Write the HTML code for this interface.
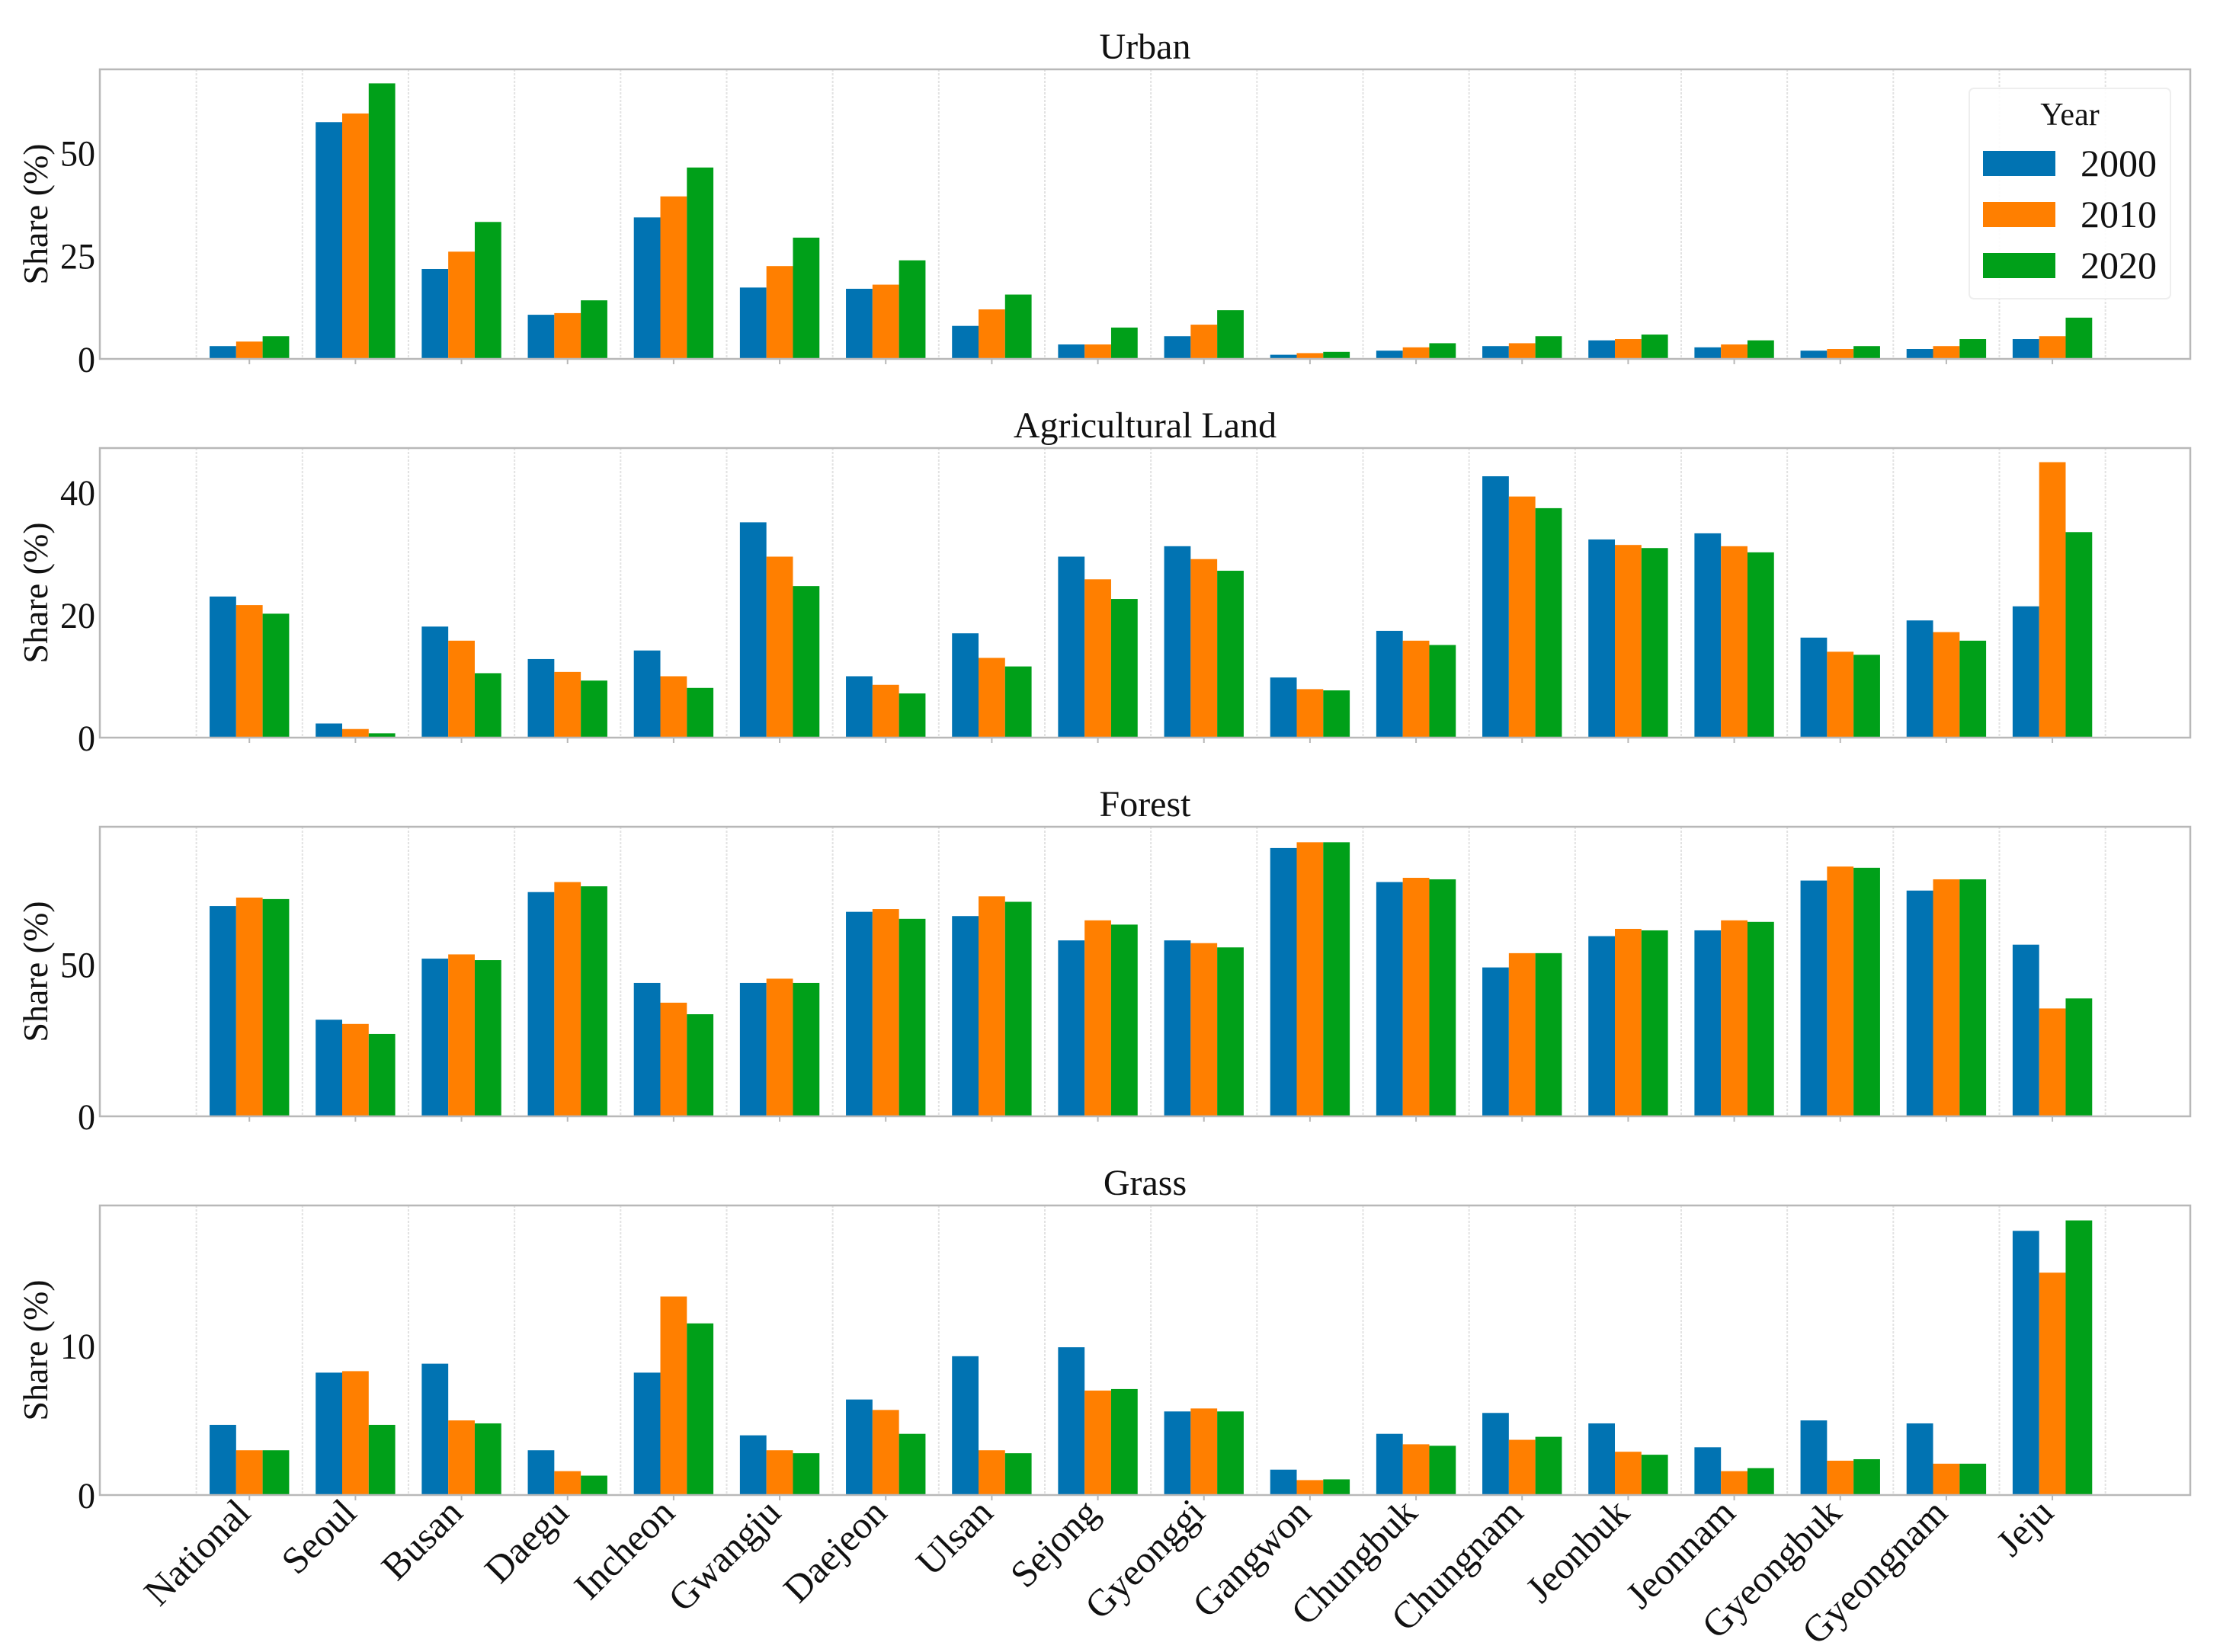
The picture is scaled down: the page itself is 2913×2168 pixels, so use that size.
<!DOCTYPE html>
<html><head><meta charset="utf-8"><style>
html,body{margin:0;padding:0;background:#fff;}
svg{display:block;font-family:"Liberation Serif",serif;}
</style></head><body>
<svg id="chart" width="2913" height="2168" viewBox="0 0 2913 2168" xmlns="http://www.w3.org/2000/svg"></svg>
<script>
const categories=["National","Seoul","Busan","Daegu","Incheon","Gwangju","Daejeon","Ulsan","Sejong","Gyeonggi","Gangwon","Chungbuk","Chungnam","Jeonbuk","Jeonnam","Gyeongbuk","Gyeongnam","Jeju"];
const years=["2000","2010","2020"];
const panelTitles=["Urban","Agricultural Land","Forest","Grass"];
const urban2000=[3.1,57.4,21.8,10.7,34.3,17.3,17,8,3.5,5.5,1,2,3.1,4.5,2.8,2,2.4,4.8];
const urban2010=[4.2,59.5,26,11.1,39.4,22.5,18,12,3.5,8.3,1.4,2.8,3.8,4.8,3.5,2.4,3.1,5.5];
const urban2020=[5.5,66.8,33.2,14.2,46.4,29.4,23.9,15.6,7.6,11.8,1.7,3.8,5.5,5.9,4.5,3.1,4.8,10];
const agri2000=[23,2.3,18.1,12.8,14.2,35.1,10,17,29.5,31.2,9.8,17.4,42.6,32.3,33.3,16.3,19.1,21.4];
const agri2010=[21.6,1.4,15.8,10.7,10,29.5,8.6,13,25.8,29.1,7.9,15.8,39.3,31.4,31.2,14,17.2,44.9];
const agri2020=[20.2,0.7,10.5,9.3,8.1,24.7,7.2,11.6,22.6,27.2,7.7,15.1,37.4,30.9,30.2,13.5,15.8,33.5];
const forest2000=[69.2,31.8,51.9,73.8,43.9,43.9,67.3,65.9,57.9,57.9,88.3,77.1,49,59.3,61.2,77.6,74.3,56.5];
const forest2010=[72,30.4,53.3,77.1,37.4,45.3,68.2,72.4,64.5,57,90.2,78.5,53.7,61.7,64.5,82.2,78,35.5];
const forest2020=[71.5,27.1,51.4,75.7,33.6,43.9,65,70.6,63.1,55.6,90.2,78,53.7,61.2,64,81.8,78,38.8];
const grass2000=[4.7,8.2,8.8,3,8.2,4,6.4,9.3,9.9,5.6,1.7,4.1,5.5,4.8,3.2,5,4.8,17.7];
const grass2010=[3,8.3,5,1.6,13.3,3,5.7,3,7,5.8,1,3.4,3.7,2.9,1.6,2.3,2.1,14.9];
const grass2020=[3,4.7,4.8,1.3,11.5,2.8,4.1,2.8,7.1,5.6,1.05,3.3,3.9,2.7,1.8,2.4,2.1,18.4];
const yMax=[70.2,47.2,95.3,19.4];
const yTicks=[[0,25,50],[0,20,40],[0,50],[0,10]];

const panelSeries=[[urban2000,urban2010,urban2020],[agri2000,agri2010,agri2020],[forest2000,forest2010,forest2020],[grass2000,grass2010,grass2020]];
const colors=["#0173b2","#ff7f00","#00a019"];
const NS="http://www.w3.org/2000/svg";
const svg=document.getElementById("chart");
const L=131,R=2874,H=380,tops=[91,588,1085,1582];
const xMin=-1.41,xMax=18.3;
function xs(v){return L+(v-xMin)/(xMax-xMin)*(R-L);}
function mk(tag,attrs,parent){const e=document.createElementNS(NS,tag);for(const k in attrs)e.setAttribute(k,attrs[k]);(parent||svg).appendChild(e);return e;}
const bw=0.25;
panelTitles.forEach((t,p)=>{
  const top=tops[p],bot=top+H;
  const ys=v=>bot-v/yMax[p]*H;
  const g=mk("g",{});
  
  
  for(let i=0;i<=categories.length;i++){
    const gl=mk("line",{x1:xs(i-0.5),x2:xs(i-0.5),y1:top,y2:bot,stroke:"#e2e2e2","stroke-width":2,"stroke-dasharray":"3,2"},g);
    
    
  }
  panelSeries[p].forEach((ser,s)=>{
    ser.forEach((v,i)=>{
      const x0=xs(i+(s-1)*bw-bw/2),x1=xs(i+(s-1)*bw+bw/2);
      const r=mk("rect",{x:x0,y:ys(v),width:x1-x0,height:bot-ys(v),fill:colors[s]},g);
      
      
    });
  });
  const fr=mk("rect",{x:L,y:top,width:R-L,height:H,fill:"none",stroke:"#b8b8b8","stroke-width":2.5},g);
  
  
  categories.forEach((c,i)=>{
    const tk=mk("line",{x1:xs(i),x2:xs(i),y1:bot,y2:bot+7,stroke:"#b8b8b8","stroke-width":2},g);
    
    
  });
  yTicks[p].forEach(v=>{
    const tl=mk("text",{x:L-6,y:ys(v)+17,"text-anchor":"end","font-size":48,fill:"#111",textLength:v>=10?46:23,lengthAdjust:"spacingAndGlyphs"},g);
    tl.textContent=v;
    
    
  });
  const tt=mk("text",{x:(L+R)/2,y:top-14,"text-anchor":"middle","font-size":48,fill:"#111"},g);
  tt.textContent=t;
  
  
  const yl=mk("text",{x:0,y:0,"text-anchor":"middle","font-size":46,fill:"#111",transform:`translate(62,${top+H/2}) rotate(-90)`},g);
  yl.textContent="Share (%)";
  
  
  if(p===3){
    categories.forEach((c,i)=>{
      const xl=mk("text",{x:0,y:0,"text-anchor":"end","font-size":50,fill:"#111",transform:`translate(${xs(i)+4},${bot+26}) rotate(-45)`},g);
      xl.textContent=c;
      
      
    });
  }
});
// legend
const lg=mk("g",{});


mk("rect",{x:2584,y:116,width:264,height:276,rx:6,fill:"#fff","fill-opacity":0.9,stroke:"#eeeeee","stroke-width":2},lg);
const lt=mk("text",{x:2716,y:164,"text-anchor":"middle","font-size":42,fill:"#111"},lg);
lt.textContent="Year";


years.forEach((y,s)=>{
  const cy=214+s*67;
  const sw=mk("rect",{x:2602,y:cy-16,width:95,height:33,fill:colors[s]},lg);
  
  
  const tx=mk("text",{x:2830,y:cy+17,"text-anchor":"end","font-size":50,fill:"#111"},lg);
  tx.textContent=y;
  
  
});
</script>
</body></html>
